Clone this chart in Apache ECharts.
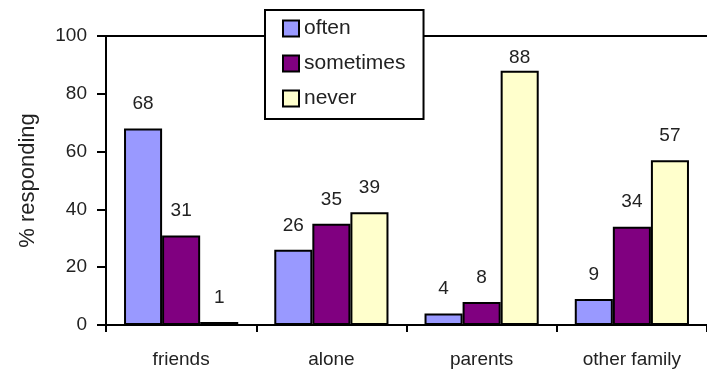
<!DOCTYPE html>
<html>
<head>
<meta charset="utf-8">
<script src="https://cdn.jsdelivr.net/npm/echarts@6/dist/echarts.min.js"></script>
<style>
  html, body { margin: 0; padding: 0; background: #fff; }
  #chart { width: 707px; height: 373px; }
</style>
</head>
<body>
<div id="chart"></div>
<script>
// Data
const categories = ['friends', 'alone', 'parents', 'other family'];
const often = [68, 26, 4, 9];
const sometimes = [31, 35, 8, 34];
const never = [1, 39, 88, 57];
const yTicks = [0, 20, 40, 60, 80, 100];

const chart = echarts.init(document.getElementById('chart'));

const font = 'Arial, "Liberation Sans", sans-serif';

function barSeries(name, data, color) {
    return {
        name: name,
        type: 'bar',
        // labels near the top of the plot sit closer to their bar
        data: data.map((v) => (v > 80 ? { value: v, label: { distance: 3 } } : v)),
        barGap: '0%',
        barCategoryGap: '24%',
        itemStyle: {
            color: color,
            borderColor: '#000',
            borderWidth: 2,
        },
        label: {
            show: true,
            position: 'top',
            distance: 15,
            fontSize: 19,
            color: '#222',
            fontFamily: font,
        },
    };
}

const option = {
    animation: false,
    backgroundColor: '#fff',
    grid: {
        left: 106,
        right: -2,
        top: 36,
        bottom: 48,
    },
    legend: {
        orient: 'vertical',
        left: 265,
        top: 10,
        padding: [8, 18, 10, 17],
        itemWidth: 16,
        itemHeight: 16,
        itemGap: 14,
        icon: 'rect',
        backgroundColor: '#fff',
        borderColor: '#000',
        borderWidth: 2,
        z: 10,
        textStyle: {
            fontSize: 21,
            color: '#222',
            fontFamily: font,
        },
        data: ['often', 'sometimes', 'never'],
    },
    xAxis: [
        {
            type: 'category',
            data: categories,
            axisLine: { lineStyle: { color: '#000', width: 2 } },
            axisTick: { show: true, length: 7, lineStyle: { color: '#000', width: 2 } },
            axisLabel: {
                fontSize: 19,
                color: '#222',
                margin: 25,
                fontFamily: font,
            },
        },
        {
            type: 'category',
            position: 'top',
            data: categories,
            axisLine: { show: true, lineStyle: { color: '#000', width: 2 } },
            axisTick: { show: false },
            axisLabel: { show: false },
        },
    ],
    yAxis: {
        type: 'value',
        min: yTicks[0],
        max: yTicks[yTicks.length - 1],
        interval: 20,
        name: '% responding',
        nameLocation: 'middle',
        nameGap: 67,
        nameTextStyle: {
            fontSize: 22,
            color: '#222',
            fontFamily: font,
        },
        splitLine: { show: false },
        axisLine: { show: true, lineStyle: { color: '#000', width: 2 } },
        axisTick: { show: true, length: 9, lineStyle: { color: '#000', width: 2 } },
        axisLabel: {
            fontSize: 19,
            color: '#222',
            margin: 19,
            fontFamily: font,
        },
    },
    series: [
        barSeries('often', often, '#9999ff'),
        barSeries('sometimes', sometimes, '#800080'),
        barSeries('never', never, '#ffffcc'),
    ],
};

chart.setOption(option);
</script>
</body>
</html>
